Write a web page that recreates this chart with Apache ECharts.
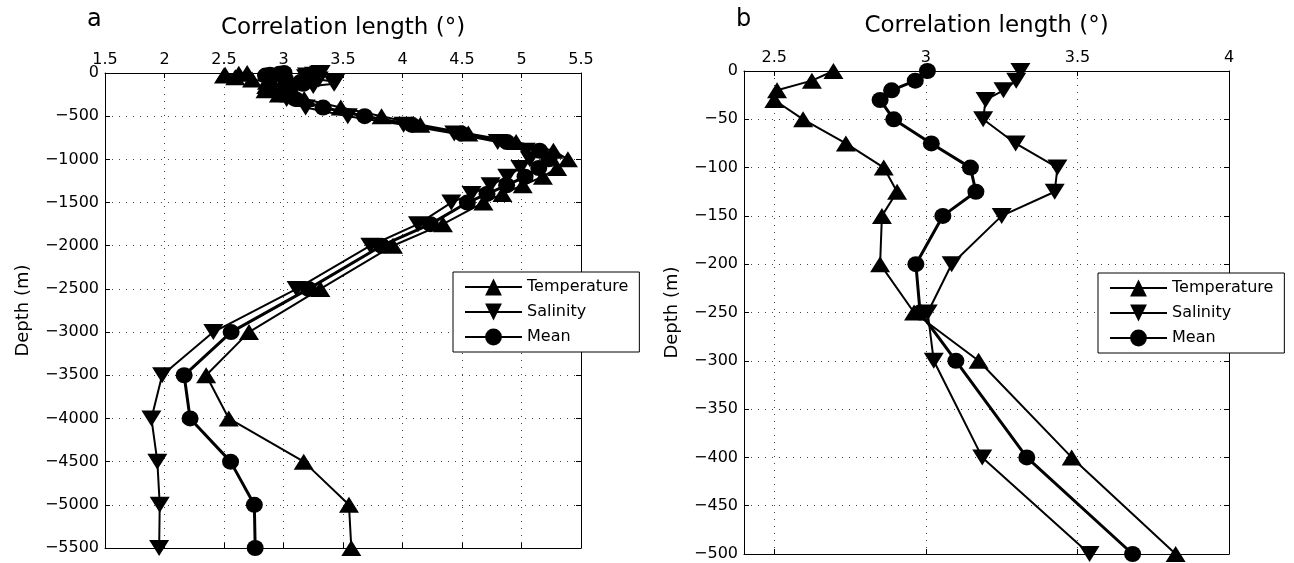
<!DOCTYPE html>
<html><head><meta charset="utf-8">
<script src="https://cdn.jsdelivr.net/npm/echarts@6/dist/echarts.min.js"></script>
<style>html,body{margin:0;padding:0;background:#fff}#c{width:1294px;height:563px}</style>
</head><body><div id="c"></div>
<script>
// ---- data (depth in m, correlation length in degrees) ----
const depths = [0,10,20,30,50,75,100,125,150,200,250,300,400,500,600,700,800,900,1000,1100,1200,1300,1400,1500,1750,2000,2500,3000,3500,4000,4500,5000,5500];
const temperature = [2.695,2.624,2.509,2.50,2.595,2.736,2.861,2.905,2.855,2.849,2.961,3.174,3.481,3.824,4.15,4.553,4.955,5.268,5.39,5.30,5.18,5.01,4.84,4.68,4.34,3.92,3.31,2.71,2.35,2.54,3.17,3.55,3.57];
const salinity = [3.312,3.298,3.256,3.197,3.189,3.296,3.434,3.425,3.25,3.085,3.006,3.026,3.186,3.540,4.009,4.435,4.80,5.036,5.07,4.99,4.88,4.74,4.58,4.41,4.13,3.73,3.11,2.41,1.98,1.89,1.94,1.96,1.955];
const meanLen = [3.005,2.965,2.887,2.849,2.894,3.018,3.147,3.165,3.056,2.967,2.981,3.099,3.333,3.682,4.079,4.494,4.878,5.152,5.23,5.145,5.03,4.875,4.71,4.545,4.235,3.825,3.21,2.56,2.165,2.215,2.555,2.755,2.762];
const seriesNames = ['Temperature','Salinity','Mean'];
const panelLabels = ['a','b'];
const xTitle = 'Correlation length (°)';
const yTitle = 'Depth (m)';
const depthLimitB = 500;
const xTicksB = [2.5, 3, 3.5, 4];

const font = "'DejaVu Sans', 'Liberation Sans', Arial, sans-serif";
const chart = echarts.init(document.getElementById('c'), null, {renderer: 'canvas'});

function pairs(xs, maxDepth) {
  const out = [];
  for (let i = 0; i < depths.length; i++) {
    if (depths[i] <= maxDepth) out.push([xs[i], -depths[i]]);
  }
  return out;
}
const fmtY = v => (v < 0 ? '\u2212' + Math.abs(v) : String(v));
const gridLine = {show: true, lineStyle: {color: '#444', width: 1, type: [1, 6]}};
const axLine = {show: true, onZero: false, lineStyle: {color: '#000', width: 1}};
const tickIn = {show: true, inside: true, length: 5, lineStyle: {color: '#000'}};
const xLab = {show: true, fontSize: 16, color: '#000', fontFamily: font, margin: 5, showMinLabel: true, showMaxLabel: true};

function xTop(gi, min, max, extra) {
  return Object.assign({
    type: 'value', gridIndex: gi, position: 'top', min: min, max: max,
    name: xTitle, nameLocation: 'middle', nameGap: 33,
    nameTextStyle: {fontSize: 23, color: '#000', fontFamily: font},
    axisLine: axLine, axisTick: tickIn, splitLine: gridLine, axisLabel: xLab
  }, extra);
}
function xBot(gi, min, max, extra) {
  return Object.assign({
    type: 'value', gridIndex: gi, position: 'bottom', min: min, max: max,
    axisLine: axLine, axisTick: tickIn, splitLine: {show: false}, axisLabel: {show: false}
  }, extra);
}
function yLeft(gi, min, interval, gap) {
  return {
    type: 'value', gridIndex: gi, position: 'left', min: min, max: 0, interval: interval,
    name: yTitle, nameLocation: 'middle', nameGap: gap, nameRotate: 90,
    nameTextStyle: {fontSize: 18, color: '#000', fontFamily: font},
    axisLine: axLine, axisTick: tickIn, splitLine: gridLine,
    axisLabel: {fontSize: 16, color: '#000', fontFamily: font, margin: 6, formatter: fmtY, showMinLabel: true, showMaxLabel: true}
  };
}
function yRight(gi, min, interval) {
  return {
    type: 'value', gridIndex: gi, position: 'right', min: min, max: 0, interval: interval,
    axisLine: axLine, axisTick: tickIn, splitLine: {show: false}, axisLabel: {show: false}
  };
}

const styles = [
  {symbol: 'triangle', symbolSize: [20, 16], symbolRotate: 0, width: 2},
  {symbol: 'triangle', symbolSize: [20, 16], symbolRotate: 180, width: 2},
  {symbol: 'circle', symbolSize: [17, 16], symbolRotate: 0, width: 3}
];
const values = [temperature, salinity, meanLen];

const series = [];
[0, 1].forEach(p => {
  values.forEach((vals, k) => {
    const st = styles[k];
    series.push({
      type: 'line', name: seriesNames[k],
      xAxisIndex: p * 2, yAxisIndex: p * 2,
      data: pairs(vals, p === 0 ? Infinity : depthLimitB),
      symbol: st.symbol, symbolSize: st.symbolSize, symbolRotate: st.symbolRotate,
      showAllSymbol: true, animation: false, silent: true,
      lineStyle: {color: '#000', width: st.width},
      itemStyle: {color: '#000', borderWidth: 0}
    });
  });
});

function legendAt(left, top) {
  return {
    left: left, top: top, orient: 'vertical', data: seriesNames,
    itemWidth: 57, itemHeight: 21, itemGap: 7, padding: [6, 11, 6, 11],
    borderColor: '#000', borderWidth: 1, backgroundColor: '#fff', borderRadius: 0,
    selectedMode: false, symbolRotate: 'inherit',
    textStyle: {fontSize: 16, color: '#000', fontFamily: font, lineHeight: 18}
  };
}

chart.setOption({
  animation: false,
  backgroundColor: '#fff',
  grid: [
    {left: 105, top: 73, width: 476, height: 475},
    {left: 744, top: 71, width: 485, height: 483}
  ],
  xAxis: [
    xTop(0, 1.5, 5.5, {interval: 0.5}),
    xBot(0, 1.5, 5.5, {interval: 0.5}),
    xTop(1, 2.4, 4, {axisLabel: Object.assign({}, xLab, {customValues: xTicksB}),
                     axisTick: Object.assign({}, tickIn, {customValues: xTicksB})}),
    xBot(1, 2.4, 4, {axisTick: Object.assign({}, tickIn, {customValues: xTicksB})})
  ],
  yAxis: [
    yLeft(0, -5500, 500, 73),
    yRight(0, -5500, 500),
    yLeft(1, -500, 50, 63),
    yRight(1, -500, 50)
  ],
  legend: [legendAt(453, 272), legendAt(1098, 273)],
  graphic: [
    {type: 'text', left: 87, top: 8, style: {text: panelLabels[0], fontSize: 24, fill: '#000', fontFamily: font}},
    {type: 'text', left: 736, top: 8, style: {text: panelLabels[1], fontSize: 24, fill: '#000', fontFamily: font}}
  ],
  series: series
});
</script>
</body></html>
